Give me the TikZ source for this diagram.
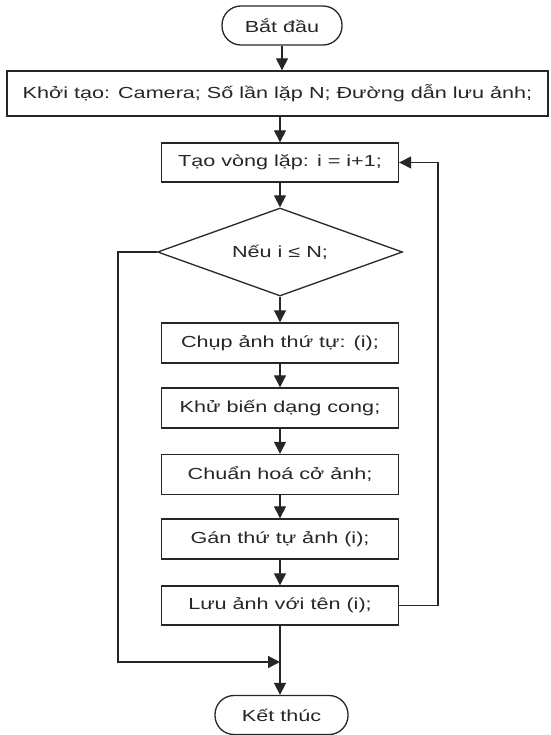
\documentclass[tikz,border=0pt]{standalone}
\usepackage{fontspec}
\setmainfont[FakeStretch=1.35]{Liberation Sans}
\usetikzlibrary{shapes.geometric,arrows.meta}
\begin{document}
\begin{tikzpicture}[x=1pt,y=-1pt,
  font=\fontsize{16}{19}\selectfont, text=black!85,
  box/.style={draw=black!85, line width=1.4pt, inner sep=0pt, minimum width=237pt, minimum height=40pt},
  term/.style={draw=black!85, line width=1.3pt, rounded corners=19pt, inner sep=0pt, minimum height=39pt},
  cond/.style={draw=black!85, line width=1.3pt, diamond, aspect=2.78, inner sep=0pt, minimum width=245pt, minimum height=88pt},
  arr/.style={draw=black!85, line width=1.3pt, -{Triangle[length=12pt,width=12pt]}},
  ln/.style={draw=black!85, line width=1.3pt}]
\useasboundingbox (0,0) rectangle (550,735);
\node[term, minimum width=120pt] (start) at (282,25.5) {Bắt đầu};
\node[box, minimum width=541pt, minimum height=45pt] (init) at (277.5,93.5) {Khởi tạo: Camera; Số lần lặp N; Đường dẫn lưu ảnh;};
\node[box, minimum height=39pt] (loop) at (280,162.5) {Tạo vòng lặp: i = i+1;};
\node[cond] (if) at (280,252) {Nếu i ≤ N;};
\node[box] (chup) at (280,343) {Chụp ảnh thứ tự: (i);};
\node[box] (khu) at (280,408) {Khử biến dạng cong;};
\node[box] (chuan) at (280,474.5) {Chuẩn hoá cở ảnh;};
\node[box] (gan) at (280,539) {Gán thứ tự ảnh (i);};
\node[box, minimum height=39pt] (luu) at (280,605.5) {Lưu ảnh với tên (i);};
\node[term, minimum width=133pt] (end) at (281.5,715) {Kết thúc};
\coordinate (merge) at (280,662);
\coordinate (lft) at (118,662);
\coordinate (rt) at (438,606);
\draw[arr] (start.south) -- (start.south |- init.north);
\draw[arr] (loop.north |- init.south) -- (loop.north);
\draw[arr] (loop) -- (if);
\draw[arr] (if) -- (chup);
\draw[arr] (chup) -- (khu);
\draw[arr] (khu) -- (chuan);
\draw[arr] (chuan) -- (gan);
\draw[arr] (gan) -- (luu);
\draw[arr] (luu.south) -- (luu.south |- end.north);
\draw[arr] (if.west) -| (lft) -- (merge);
\draw[arr] (luu.east) -- (luu.east -| rt) |- (loop.east);
\end{tikzpicture}
\end{document}
